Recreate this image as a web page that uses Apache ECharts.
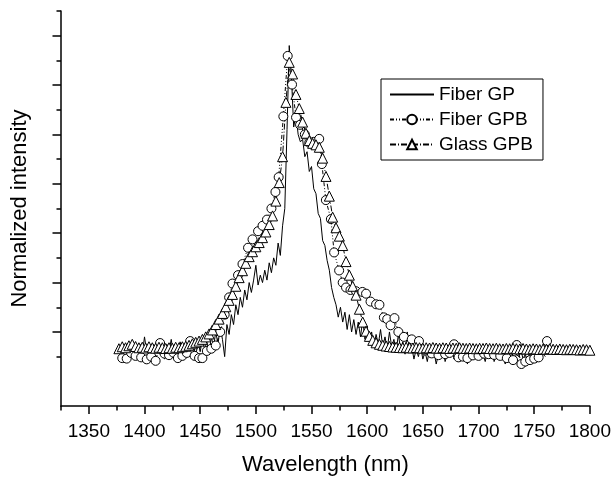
<!DOCTYPE html>
<html>
<head>
<meta charset="utf-8">
<script src="https://cdn.jsdelivr.net/npm/echarts@6/dist/echarts.min.js"></script>
<style>
html,body{margin:0;padding:0;background:#fff;}
#chart{width:614px;height:481px;}
</style>
</head>
<body>
<div id="chart"></div>
<script>
// ---- Data ----
// Fiber GP: sampled every 2 nm from 1380 nm
const gpStart = 1380, gpStep = 2;
const gpValues = [
0.23,0.25,0.22,0.24,0.21,0.26,0.23,0.22,0.25,0.21,
0.28,0.22,0.24,0.20,0.25,0.23,0.27,0.21,0.24,0.19,
0.25,0.22,0.27,0.21,0.24,0.20,0.26,0.22,0.25,0.21,
0.27,0.23,0.25,0.20,0.26,0.22,0.27,0.23,0.26,0.21,
0.28,0.24,0.30,0.25,0.32,0.27,0.20,0.33,0.29,0.37,
0.33,0.41,0.37,0.44,0.40,0.47,0.43,0.50,0.46,0.51,
0.57,0.49,0.53,0.50,0.55,0.51,0.58,0.54,0.60,0.57,
0.66,0.61,0.73,0.80,1.12,1.46,1.33,1.13,1.18,1.10,
1.07,1.08,1.01,1.03,0.95,0.97,0.88,0.86,0.78,0.76,
0.67,0.65,0.59,0.55,0.48,0.44,0.41,0.36,0.40,0.34,
0.38,0.31,0.37,0.30,0.35,0.29,0.34,0.28,0.35,0.27,
0.32,0.26,0.30,0.24,0.29,0.25,0.31,0.24,0.28,0.23,
0.30,0.24,0.27,0.22,0.29,0.23,0.26,0.21,0.30,0.22,
0.24,0.19,0.23,0.20,0.24,0.19,0.22,0.18,0.23,0.20,
0.22,0.17,0.21,0.19,0.23,0.18,0.21,0.20,0.24,0.19,
0.22,0.18,0.21,0.20,0.23,0.17,0.21,0.19,0.22,0.20,
0.24,0.19,0.21,0.18,0.22,0.20,0.23,0.18,0.21,0.19,
0.22,0.20,0.17,0.21,0.19,0.22,0.18,0.21,0.20,0.23,
0.19,0.21,0.18,0.22,0.20,0.21,0.19,0.22,0.20,0.21,
0.20
];

// Fiber GPB: wavelengths and values
const gpbWavelengths = [
1380,1384,1388,1392,1397,1402,1406,1410,1414,1418,
1422,1426,1430,1434,1438,1441,1445,1449,1452,1456,
1460,1464,1468,1472,1476,1479,1484,1488,1493,1497,
1502,1506,1510,1514,1517.6,1520.5,1524.7,1528.6,1532.5,1536.1,
1539.7,1544,1548,1552,1556.9,1559.3,1562.9,1567.4,1570.3,1574.8,
1578,1581,1585,1590,1595.7,1599,1603,1608,1611,1615,
1618,1621,1624.5,1628,1633,1640,1646.5,1652,1658,1664,
1670,1674,1678,1682,1686,1690,1695,1700,1705,1709,
1714,1719.5,1725.4,1731,1734.3,1738.5,1742,1746.3,1750,1754,
1761.5
];
const gpbValues = [
0.194,0.192,0.215,0.203,0.197,0.189,0.200,0.183,0.255,0.212,
0.206,0.216,0.194,0.203,0.215,0.263,0.203,0.194,0.194,0.223,
0.232,0.245,0.300,0.370,0.440,0.496,0.530,0.575,0.641,0.675,
0.708,0.730,0.755,0.800,0.867,0.927,1.173,1.418,1.302,1.169,
1.139,1.100,1.067,1.070,1.082,0.980,0.834,0.757,0.622,0.549,
0.500,0.480,0.470,0.465,0.462,0.455,0.423,0.412,0.410,0.359,
0.352,0.327,0.356,0.300,0.280,0.270,0.263,0.225,0.213,0.206,
0.210,0.215,0.250,0.197,0.200,0.194,0.205,0.203,0.212,0.210,
0.207,0.203,0.194,0.186,0.247,0.170,0.180,0.186,0.192,0.197,
0.263
];

// Glass GPB: sampled every 3 nm from 1377 nm
const glassStart = 1377, glassStep = 3;
const glassValues = [
0.232,0.240,0.236,0.244,0.250,0.241,0.236,0.238,0.235,0.240,
0.236,0.234,0.238,0.236,0.233,0.236,0.234,0.238,0.236,0.240,
0.242,0.246,0.252,0.258,0.263,0.270,0.280,0.292,0.308,0.330,
0.352,0.375,0.402,0.428,0.452,0.485,0.520,0.548,0.578,0.605,
0.625,0.645,0.662,0.682,0.705,0.735,0.770,0.830,0.905,1.010,
1.230,1.392,1.345,1.262,1.205,1.150,1.105,1.075,1.064,1.058,
1.048,1.004,0.930,0.850,0.765,0.722,0.688,0.650,0.585,0.530,
0.485,0.449,0.392,0.340,0.303,0.282,0.266,0.256,0.250,0.246,
0.243,0.241,0.239,0.238,
0.237,0.236,0.238,0.236,0.235,0.237,0.236,0.234,0.236,0.235,
0.237,0.235,0.234,0.236,0.235,0.233,0.235,0.234,0.236,0.234,
0.233,0.235,0.233,0.232,0.234,0.233,0.235,0.233,0.232,0.234,
0.232,0.231,0.233,0.232,0.234,0.232,0.231,0.233,0.231,0.230,
0.232,0.231,0.229,0.231,0.230,0.232,0.230,0.229,0.231,0.229,
0.228,0.230,0.229,0.228,0.227,0.229,0.228,0.226
];

const seriesNames = ['Fiber GP', 'Fiber GPB', 'Glass GPB'];
const xTickLabels = [1350,1400,1450,1500,1550,1600,1650,1700,1750,1800];
const xMinorTicks = [1325,1375,1425,1475,1525,1575,1625,1675,1725,1775];
const yMajorTicks = [0.3,0.5,0.7,0.9,1.1,1.3,1.5];
const yMinorTicks = [0.2,0.4,0.6,0.8,1.0,1.2,1.4,1.6];

// ---- Build series data ----
const gpData = gpValues.map((v, i) => [gpStart + gpStep * i, v]);
const gpbData = gpbWavelengths.map((w, i) => [w, gpbValues[i]]);
const glassData = glassValues.map((v, i) => [glassStart + glassStep * i, v]);

const FONT = '"Liberation Sans", Arial, Helvetica, sans-serif';
const axisLineStyle = { color: '#000', width: 1.5 };

const chart = echarts.init(document.getElementById('chart'), null, { renderer: 'canvas' });
chart.setOption({
  animation: false,
  backgroundColor: '#fff',
  textStyle: { fontFamily: FONT, color: '#000' },
  grid: { left: 61, right: 22, top: 11, bottom: 68, containLabel: false },
  legend: {
    orient: 'vertical',
    left: 381, top: 79,
    data: [
      { name: seriesNames[0], itemStyle: { opacity: 0, color: 'transparent', borderWidth: 0 } },
      { name: seriesNames[1] },
      { name: seriesNames[2] }
    ],
    borderColor: '#000', borderWidth: 1,
    padding: [6, 10, 6, 8],
    itemWidth: 44, itemHeight: 12, itemGap: 6,
    textStyle: { fontSize: 19, color: '#000', fontFamily: FONT, lineHeight: 19 }
  },
  xAxis: [
    {
      type: 'value', min: 1325, max: 1800,
      axisLine: { show: true, onZero: false, lineStyle: axisLineStyle },
      axisTick: { show: true, customValues: xTickLabels, length: 8, inside: false, lineStyle: axisLineStyle },
      axisLabel: { customValues: xTickLabels, fontSize: 19, color: '#000', margin: 16, fontFamily: FONT,
                   formatter: v => String(v) },
      splitLine: { show: false },
      name: 'Wavelength (nm)', nameLocation: 'middle', nameGap: 48,
      nameTextStyle: { fontSize: 22, color: '#000', fontFamily: FONT }
    },
    {
      type: 'value', min: 1325, max: 1800, position: 'bottom',
      axisLine: { show: false, onZero: false },
      axisTick: { show: true, customValues: xMinorTicks, length: 4.5, inside: false, lineStyle: axisLineStyle },
      axisLabel: { show: false },
      splitLine: { show: false }
    }
  ],
  yAxis: [
    {
      type: 'value', min: 0, max: 1.6,
      axisLine: { show: true, onZero: false, lineStyle: axisLineStyle },
      axisTick: { show: true, customValues: yMajorTicks, length: 8.5, inside: false, lineStyle: axisLineStyle },
      axisLabel: { show: false },
      splitLine: { show: false },
      name: 'Normalized intensity', nameLocation: 'middle', nameGap: 30, nameRotate: 90,
      nameTextStyle: { fontSize: 22, color: '#000', fontFamily: FONT }
    },
    {
      type: 'value', min: 0, max: 1.6, position: 'left',
      axisLine: { show: false, onZero: false },
      axisTick: { show: true, customValues: yMinorTicks, length: 4.5, inside: false, lineStyle: axisLineStyle },
      axisLabel: { show: false },
      splitLine: { show: false }
    }
  ],
  series: [
    {
      name: seriesNames[0], type: 'line', xAxisIndex: 0, yAxisIndex: 0,
      data: gpData, symbol: 'none', showSymbol: false,
      lineStyle: { color: '#000', width: 1 },
      itemStyle: { color: '#000' }
    },
    {
      name: seriesNames[1], type: 'line', xAxisIndex: 0, yAxisIndex: 0,
      data: gpbData, symbol: 'circle', symbolSize: 9, showAllSymbol: true,
      lineStyle: { color: '#000', width: 1, type: [4, 2, 1, 2, 1, 2] },
      itemStyle: { color: '#fff', borderColor: '#000', borderWidth: 1 }
    },
    {
      name: seriesNames[2], type: 'line', xAxisIndex: 0, yAxisIndex: 0,
      data: glassData, symbol: 'triangle', symbolSize: 10, showAllSymbol: true,
      lineStyle: { color: '#000', width: 1, type: [6, 2, 1, 2] },
      itemStyle: { color: '#fff', borderColor: '#000', borderWidth: 1 }
    }
  ]
});
</script>
</body>
</html>
